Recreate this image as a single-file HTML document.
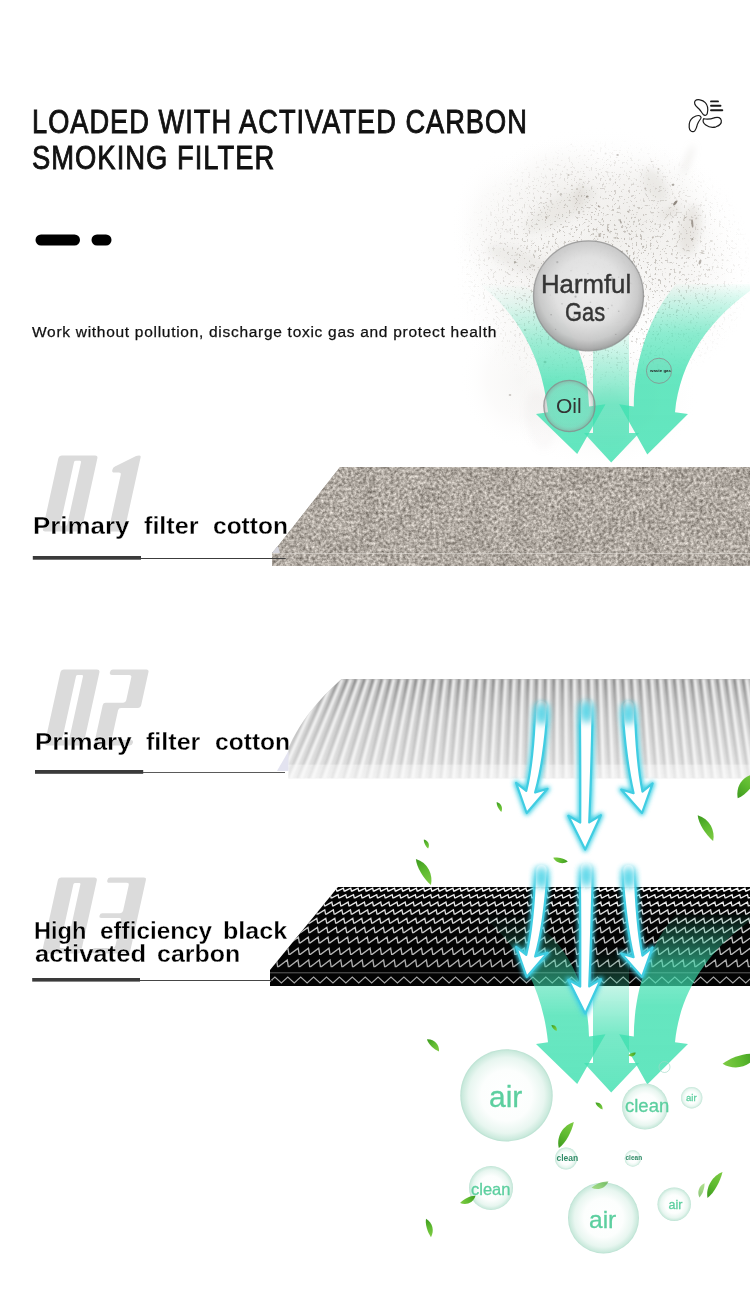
<!DOCTYPE html>
<html><head><meta charset="utf-8">
<style>
html,body{margin:0;padding:0;background:#fff;}
body{width:750px;height:1308px;position:relative;overflow:hidden;font-family:"Liberation Sans",sans-serif;}
.a{position:absolute;white-space:nowrap;line-height:1;}
.h{font-size:32.5px;color:#111;-webkit-text-stroke:0.9px #111;letter-spacing:1.2px;transform-origin:0 0;}
.lb{font-size:23px;font-weight:bold;color:#000;transform-origin:0 0;-webkit-text-stroke:0.3px #fff;}
.g{color:#5ccf9f;-webkit-text-stroke:0.3px #5ccf9f;}
.gd{color:#2f8a66;font-weight:bold;}
</style></head><body>
<svg width="750" height="1308" viewBox="0 0 750 1308" style="position:absolute;left:0;top:0"><defs>
<filter id="stone" x="0" y="0" width="1" height="1" color-interpolation-filters="sRGB">
  <feTurbulence type="fractalNoise" baseFrequency="0.33" numOctaves="3" seed="5" result="t1"/>
  <feColorMatrix in="t1" type="matrix" values="1 0 0 0 0  1 0 0 0 0  1 0 0 0 0  0 0 0 0 1" result="n1"/>
  <feTurbulence type="fractalNoise" baseFrequency="0.045" numOctaves="2" seed="11" result="t2"/>
  <feColorMatrix in="t2" type="matrix" values="1 0 0 0 0  1 0 0 0 0  1 0 0 0 0  0 0 0 0 1" result="n2"/>
  <feComposite in="n1" in2="n2" operator="arithmetic" k1="0" k2="0.75" k3="0.12" k4="0.065" result="n"/>
  <feColorMatrix in="n" type="matrix" values="0.8 0 0 0 0.262  0.8 0 0 0 0.236  0.8 0 0 0 0.205  0 0 0 0 1" result="c"/>
  <feComposite in="c" in2="SourceGraphic" operator="in"/>
</filter>
<filter id="bl07" x="-5%" y="-5%" width="110%" height="110%"><feGaussianBlur stdDeviation="0.85"/></filter>
<filter id="bl2" x="-50%" y="-50%" width="200%" height="200%"><feGaussianBlur stdDeviation="2"/></filter>
<filter id="bl3" x="-50%" y="-50%" width="200%" height="200%"><feGaussianBlur stdDeviation="3.5"/></filter>
<filter id="bl6" x="-50%" y="-50%" width="200%" height="200%"><feGaussianBlur stdDeviation="6"/></filter>
<filter id="glow" x="-60%" y="-20%" width="220%" height="140%">
  <feGaussianBlur in="SourceAlpha" stdDeviation="2.2" result="b"/>
  <feFlood flood-color="#3dd3e6"/>
  <feComposite in2="b" operator="in" result="g"/>
  <feMerge><feMergeNode in="g"/><feMergeNode in="SourceGraphic"/></feMerge>
</filter>
<radialGradient id="gasG" cx="0.5" cy="0.45" r="0.55">
  <stop offset="0" stop-color="#ececec"/><stop offset="0.55" stop-color="#e0e0e0"/>
  <stop offset="0.82" stop-color="#c8c8c8"/><stop offset="0.95" stop-color="#ababab"/><stop offset="1" stop-color="#9a9a9a"/>
</radialGradient>
<radialGradient id="oilG" cx="0.5" cy="0.5" r="0.5">
  <stop offset="0" stop-color="#e0e0e0" stop-opacity="0.12"/><stop offset="0.8" stop-color="#c8c8c8" stop-opacity="0.22"/>
  <stop offset="1" stop-color="#909090" stop-opacity="0.5"/>
</radialGradient>
<radialGradient id="airG" cx="0.5" cy="0.5" r="0.5">
  <stop offset="0" stop-color="#ffffff"/><stop offset="0.55" stop-color="#fcfefd"/>
  <stop offset="0.82" stop-color="#e8f6f0"/><stop offset="0.96" stop-color="#cbeadd"/><stop offset="1" stop-color="#b8e0d0"/>
</radialGradient>
<radialGradient id="smokeG" cx="0.5" cy="0.5" r="0.5">
  <stop offset="0" stop-color="#e9e7e3" stop-opacity="0.85"/><stop offset="0.55" stop-color="#efedea" stop-opacity="0.55"/>
  <stop offset="1" stop-color="#ffffff" stop-opacity="0"/>
</radialGradient>
<linearGradient id="gL" x1="0" y1="0" x2="0" y2="1">
  <stop offset="0" stop-color="#4fe0b4" stop-opacity="0"/><stop offset="0.4" stop-color="#4fe0b4" stop-opacity="0.5"/><stop offset="1" stop-color="#4fe0b4" stop-opacity="0.8"/>
</linearGradient>
<linearGradient id="pleatV" x1="0" y1="678" x2="0" y2="766" gradientUnits="userSpaceOnUse">
  <stop offset="0" stop-color="#8a8a8a"/><stop offset="0.3" stop-color="#aaaaaa"/><stop offset="1" stop-color="#c4c4c4"/>
</linearGradient>
<filter id="dust" x="0" y="0" width="1" height="1" color-interpolation-filters="sRGB">
  <feTurbulence type="fractalNoise" baseFrequency="0.42" numOctaves="2" seed="3"/>
  <feColorMatrix type="matrix" values="0 0 0 0 0.5  0 0 0 0 0.47  0 0 0 0 0.43  -12 0 0 0 4.5"/>
  <feGaussianBlur stdDeviation="0.35"/>
</filter>
<radialGradient id="dustM" cx="0.5" cy="0.5" r="0.5"><stop offset="0" stop-color="#fff" stop-opacity="0.5"/><stop offset="0.6" stop-color="#fff" stop-opacity="0.28"/><stop offset="1" stop-color="#fff" stop-opacity="0"/></radialGradient>
<mask id="dustMask" maskUnits="userSpaceOnUse" x="440" y="110" width="310" height="360"><ellipse cx="605" cy="268" rx="150" ry="130" fill="url(#dustM)"/></mask>
<linearGradient id="gLa" x1="0" y1="283" x2="0" y2="454" gradientUnits="userSpaceOnUse">
  <stop offset="0" stop-color="#3fe0b0" stop-opacity="0"/><stop offset="0.12" stop-color="#3fe0b0" stop-opacity="0.12"/><stop offset="0.35" stop-color="#3fe0b0" stop-opacity="0.5"/><stop offset="0.6" stop-color="#3fe0b0" stop-opacity="0.78"/><stop offset="1" stop-color="#3fe0b0" stop-opacity="0.82"/>
</linearGradient>
<linearGradient id="gMa" x1="0" y1="318" x2="0" y2="462" gradientUnits="userSpaceOnUse">
  <stop offset="0" stop-color="#3fe0b0" stop-opacity="0"/><stop offset="0.3" stop-color="#3fe0b0" stop-opacity="0.35"/><stop offset="0.6" stop-color="#3fe0b0" stop-opacity="0.7"/><stop offset="1" stop-color="#3fe0b0" stop-opacity="0.82"/>
</linearGradient>
<linearGradient id="gRa" x1="0" y1="282" x2="0" y2="454" gradientUnits="userSpaceOnUse">
  <stop offset="0" stop-color="#3fe0b0" stop-opacity="0"/><stop offset="0.1" stop-color="#3fe0b0" stop-opacity="0.22"/><stop offset="0.3" stop-color="#3fe0b0" stop-opacity="0.6"/><stop offset="0.55" stop-color="#3fe0b0" stop-opacity="0.8"/><stop offset="1" stop-color="#3fe0b0" stop-opacity="0.82"/>
</linearGradient>
<linearGradient id="bmG" x1="0" y1="698" x2="0" y2="726" gradientUnits="userSpaceOnUse"><stop offset="0" stop-color="#000"/><stop offset="1" stop-color="#fff"/></linearGradient>
<mask id="bm" maskUnits="userSpaceOnUse" x="400" y="600" width="400" height="300"><rect x="400" y="600" width="400" height="300" fill="url(#bmG)"/></mask><linearGradient id="leafG" x1="0" y1="0" x2="1" y2="0"><stop offset="0" stop-color="#3d9a1f"/><stop offset="0.5" stop-color="#5fbb30"/><stop offset="1" stop-color="#7fcb45"/></linearGradient></defs><g><ellipse cx="600" cy="240" rx="150" ry="115" fill="url(#smokeG)" opacity="0.75"/><ellipse cx="640" cy="215" rx="85" ry="75" fill="url(#smokeG)" opacity="0.6"/><ellipse cx="560" cy="300" rx="110" ry="90" fill="url(#smokeG)" opacity="0.5"/><ellipse cx="600" cy="400" rx="100" ry="70" fill="url(#smokeG)" opacity="0.5"/><ellipse cx="690" cy="280" rx="60" ry="90" fill="url(#smokeG)" opacity="0.3"/><ellipse cx="520" cy="380" rx="60" ry="70" fill="url(#smokeG)" opacity="0.4"/><ellipse cx="500" cy="230" rx="50" ry="80" fill="url(#smokeG)" opacity="0.35"/><ellipse cx="560" cy="190" rx="70" ry="55" fill="url(#smokeG)" opacity="0.4"/><g filter="url(#bl3)"><ellipse cx="655" cy="185" rx="18" ry="10" transform="rotate(60 655 185)" fill="#c9c3ba" opacity="0.22"/><ellipse cx="670" cy="212" rx="12" ry="5" transform="rotate(-30 670 212)" fill="#c9c3ba" opacity="0.3"/><ellipse cx="688" cy="160" rx="3" ry="16" transform="rotate(20 688 160)" fill="#c9c3ba" opacity="0.25"/><ellipse cx="579" cy="196" rx="3" ry="14" transform="rotate(10 579 196)" fill="#c9c3ba" opacity="0.35"/><ellipse cx="560" cy="210" rx="40" ry="12" transform="rotate(-30 560 210)" fill="#c9c3ba" opacity="0.2"/><ellipse cx="520" cy="260" rx="35" ry="10" transform="rotate(20 520 260)" fill="#c9c3ba" opacity="0.18"/><ellipse cx="540" cy="420" rx="30" ry="14" transform="rotate(80 540 420)" fill="#c9c3ba" opacity="0.08"/><ellipse cx="610" cy="420" rx="20" ry="30" transform="rotate(0 610 420)" fill="#c9c3ba" opacity="0.1"/><ellipse cx="690" cy="230" rx="10" ry="25" transform="rotate(10 690 230)" fill="#c9c3ba" opacity="0.3"/></g><ellipse cx="675.2" cy="203" rx="2.8" ry="1.3" transform="rotate(-50 675.2 203)" fill="#6f665b" opacity="0.75"/><ellipse cx="673" cy="184.8" rx="1.4" ry="1.1" transform="rotate(0 673 184.8)" fill="#6f665b" opacity="0.55"/><ellipse cx="692.3" cy="223.5" rx="1.0" ry="4.2" transform="rotate(-5 692.3 223.5)" fill="#6f665b" opacity="0.6"/><ellipse cx="692.3" cy="239.2" rx="1.1" ry="1.1" transform="rotate(0 692.3 239.2)" fill="#6f665b" opacity="0.5"/><ellipse cx="587.3" cy="196.5" rx="1.3" ry="1.1" transform="rotate(0 587.3 196.5)" fill="#6f665b" opacity="0.6"/><ellipse cx="620.8" cy="222" rx="1.6" ry="0.8" transform="rotate(60 620.8 222)" fill="#6f665b" opacity="0.5"/><ellipse cx="643.2" cy="246.7" rx="1.1" ry="1" transform="rotate(0 643.2 246.7)" fill="#6f665b" opacity="0.45"/><ellipse cx="617.6" cy="155" rx="1.3" ry="1" transform="rotate(0 617.6 155)" fill="#6f665b" opacity="0.35"/><ellipse cx="568.5" cy="175" rx="1.1" ry="1" transform="rotate(0 568.5 175)" fill="#6f665b" opacity="0.35"/><ellipse cx="565" cy="252" rx="1.5" ry="1.2" transform="rotate(0 565 252)" fill="#6f665b" opacity="0.5"/><ellipse cx="540" cy="290" rx="1.3" ry="1.1" transform="rotate(0 540 290)" fill="#6f665b" opacity="0.45"/><ellipse cx="515" cy="262" rx="1.2" ry="1" transform="rotate(0 515 262)" fill="#6f665b" opacity="0.4"/><ellipse cx="700" cy="262" rx="1.2" ry="2.6" transform="rotate(20 700 262)" fill="#6f665b" opacity="0.5"/><ellipse cx="632" cy="262" rx="1.2" ry="1" transform="rotate(0 632 262)" fill="#6f665b" opacity="0.4"/><ellipse cx="659" cy="280" rx="1.1" ry="1" transform="rotate(0 659 280)" fill="#6f665b" opacity="0.4"/><ellipse cx="525" cy="330" rx="1.3" ry="1.1" transform="rotate(0 525 330)" fill="#6f665b" opacity="0.4"/><ellipse cx="545" cy="362" rx="1.5" ry="1.2" transform="rotate(0 545 362)" fill="#6f665b" opacity="0.45"/><ellipse cx="510" cy="395" rx="1.3" ry="1" transform="rotate(0 510 395)" fill="#6f665b" opacity="0.35"/><ellipse cx="592.68" cy="265.68" rx="1.64" ry="0.65" transform="rotate(10.44 592.68 265.68)" fill="#7a7064" opacity="0.36"/><ellipse cx="595.97" cy="244.65" rx="1.11" ry="0.67" transform="rotate(148.83 595.97 244.65)" fill="#7a7064" opacity="0.37"/><circle cx="631.83" cy="267.2" r="0.9" fill="#7d7468" opacity="0.42"/><circle cx="595.29" cy="240.14" r="0.6" fill="#7d7468" opacity="0.32"/><circle cx="598.46" cy="266.62" r="1.2" fill="#7d7468" opacity="0.24"/><ellipse cx="596.59" cy="229.49" rx="1.12" ry="0.78" transform="rotate(101.59 596.59 229.49)" fill="#7a7064" opacity="0.42"/><circle cx="552.66" cy="204.23" r="0.8" fill="#7d7468" opacity="0.22"/><circle cx="548" cy="216.45" r="1.0" fill="#7d7468" opacity="0.16"/><circle cx="608.15" cy="231.07" r="0.7" fill="#7d7468" opacity="0.40"/><ellipse cx="599.05" cy="206.54" rx="1.5" ry="0.8" transform="rotate(27.36 599.05 206.54)" fill="#7a7064" opacity="0.50"/><circle cx="595.66" cy="245.55" r="0.9" fill="#7d7468" opacity="0.43"/><circle cx="630.89" cy="158.24" r="0.8" fill="#7d7468" opacity="0.17"/><circle cx="546.51" cy="218.03" r="0.8" fill="#7d7468" opacity="0.29"/><circle cx="600.42" cy="233.86" r="0.9" fill="#7d7468" opacity="0.48"/><circle cx="711.75" cy="241.11" r="1.0" fill="#7d7468" opacity="0.24"/><circle cx="536.86" cy="326.98" r="0.8" fill="#7d7468" opacity="0.10"/><ellipse cx="699.36" cy="275.78" rx="1.47" ry="0.85" transform="rotate(14.5 699.36 275.78)" fill="#7a7064" opacity="0.16"/><circle cx="531.49" cy="265.41" r="1.2" fill="#7d7468" opacity="0.21"/><circle cx="515.02" cy="220.33" r="0.8" fill="#7d7468" opacity="0.21"/><ellipse cx="631.57" cy="238.93" rx="1.28" ry="0.69" transform="rotate(106.04 631.57 238.93)" fill="#7a7064" opacity="0.44"/><circle cx="604.88" cy="246.29" r="0.9" fill="#7d7468" opacity="0.40"/><circle cx="595.07" cy="263.13" r="1.0" fill="#7d7468" opacity="0.42"/><circle cx="599.59" cy="235.91" r="1.2" fill="#7d7468" opacity="0.51"/><circle cx="571.82" cy="185.22" r="0.8" fill="#7d7468" opacity="0.20"/><ellipse cx="595.99" cy="236.49" rx="1.19" ry="0.64" transform="rotate(9.46 595.99 236.49)" fill="#7a7064" opacity="0.29"/><circle cx="632.59" cy="245.03" r="0.5" fill="#7d7468" opacity="0.39"/><circle cx="637.17" cy="257.78" r="0.7" fill="#7d7468" opacity="0.40"/><circle cx="549.92" cy="210.36" r="0.8" fill="#7d7468" opacity="0.12"/><circle cx="556.16" cy="250.08" r="1.0" fill="#7d7468" opacity="0.14"/><ellipse cx="595.04" cy="334.97" rx="2.14" ry="0.71" transform="rotate(26.39 595.04 334.97)" fill="#7a7064" opacity="0.10"/><circle cx="598.3" cy="243.43" r="1.2" fill="#7d7468" opacity="0.41"/><circle cx="696.9" cy="294.68" r="0.7" fill="#7d7468" opacity="0.19"/><circle cx="615.38" cy="182.17" r="0.6" fill="#7d7468" opacity="0.39"/><ellipse cx="526.72" cy="188.32" rx="1.29" ry="0.66" transform="rotate(144.6 526.72 188.32)" fill="#7a7064" opacity="0.15"/><circle cx="626.96" cy="301.68" r="1.2" fill="#7d7468" opacity="0.27"/><circle cx="597.2" cy="280.04" r="0.8" fill="#7d7468" opacity="0.32"/><circle cx="639.69" cy="169.41" r="0.5" fill="#7d7468" opacity="0.23"/><ellipse cx="612.04" cy="276.5" rx="1.75" ry="0.86" transform="rotate(151.28 612.04 276.5)" fill="#7a7064" opacity="0.24"/><ellipse cx="516.85" cy="254.6" rx="1.79" ry="0.86" transform="rotate(140.81 516.85 254.6)" fill="#7a7064" opacity="0.16"/><circle cx="605.06" cy="186.82" r="0.7" fill="#7d7468" opacity="0.24"/><circle cx="707.26" cy="297.08" r="1.0" fill="#7d7468" opacity="0.21"/><ellipse cx="696.28" cy="218.37" rx="1.18" ry="0.86" transform="rotate(145.17 696.28 218.37)" fill="#7a7064" opacity="0.27"/><circle cx="670.15" cy="316.64" r="0.7" fill="#7d7468" opacity="0.25"/><circle cx="648.08" cy="298.9" r="1.0" fill="#7d7468" opacity="0.11"/><circle cx="560.89" cy="194.22" r="1.2" fill="#7d7468" opacity="0.33"/><ellipse cx="643.14" cy="333.66" rx="1.6" ry="0.81" transform="rotate(58.68 643.14 333.66)" fill="#7a7064" opacity="0.10"/><circle cx="501.05" cy="220.02" r="0.8" fill="#7d7468" opacity="0.10"/><circle cx="549.53" cy="168.99" r="0.9" fill="#7d7468" opacity="0.11"/><circle cx="623.84" cy="262.02" r="1.2" fill="#7d7468" opacity="0.41"/><ellipse cx="605.61" cy="246.14" rx="1.57" ry="0.79" transform="rotate(100.17 605.61 246.14)" fill="#7a7064" opacity="0.49"/><circle cx="571.05" cy="300.13" r="0.5" fill="#7d7468" opacity="0.15"/><ellipse cx="614.36" cy="237.91" rx="1.12" ry="0.68" transform="rotate(5.02 614.36 237.91)" fill="#7a7064" opacity="0.39"/><circle cx="615.81" cy="237.86" r="0.9" fill="#7d7468" opacity="0.43"/><circle cx="512.08" cy="239.02" r="0.8" fill="#7d7468" opacity="0.10"/><circle cx="564.12" cy="243.33" r="0.7" fill="#7d7468" opacity="0.28"/><circle cx="705.98" cy="200.28" r="0.8" fill="#7d7468" opacity="0.20"/><ellipse cx="651.97" cy="282.82" rx="1.09" ry="0.77" transform="rotate(141.11 651.97 282.82)" fill="#7a7064" opacity="0.20"/><circle cx="627.38" cy="230.8" r="0.6" fill="#7d7468" opacity="0.58"/><circle cx="604.5" cy="266.44" r="0.5" fill="#7d7468" opacity="0.34"/><circle cx="548.56" cy="280.24" r="0.6" fill="#7d7468" opacity="0.26"/><circle cx="571.29" cy="144.41" r="0.7" fill="#7d7468" opacity="0.10"/><circle cx="564.79" cy="318.54" r="0.8" fill="#7d7468" opacity="0.10"/><circle cx="588.12" cy="198.24" r="0.5" fill="#7d7468" opacity="0.32"/><circle cx="693.64" cy="308.87" r="0.5" fill="#7d7468" opacity="0.10"/><circle cx="604.08" cy="252.89" r="0.6" fill="#7d7468" opacity="0.46"/><circle cx="651.58" cy="161.55" r="0.8" fill="#7d7468" opacity="0.27"/><circle cx="674.06" cy="324.18" r="0.5" fill="#7d7468" opacity="0.10"/><circle cx="586.02" cy="331.34" r="0.7" fill="#7d7468" opacity="0.10"/><ellipse cx="685.42" cy="217.44" rx="2.03" ry="0.53" transform="rotate(155.3 685.42 217.44)" fill="#7a7064" opacity="0.46"/><circle cx="554.58" cy="257.66" r="0.7" fill="#7d7468" opacity="0.23"/><circle cx="597.69" cy="239.11" r="0.6" fill="#7d7468" opacity="0.46"/><circle cx="602.62" cy="271.69" r="0.9" fill="#7d7468" opacity="0.43"/><ellipse cx="607.77" cy="206.07" rx="1.42" ry="0.51" transform="rotate(45.08 607.77 206.07)" fill="#7a7064" opacity="0.40"/><ellipse cx="702.05" cy="252.89" rx="1.57" ry="0.87" transform="rotate(19.13 702.05 252.89)" fill="#7a7064" opacity="0.32"/><circle cx="631.81" cy="196.29" r="0.8" fill="#7d7468" opacity="0.40"/><ellipse cx="652.85" cy="237.41" rx="1.24" ry="0.85" transform="rotate(131.19 652.85 237.41)" fill="#7a7064" opacity="0.44"/><circle cx="684.17" cy="325.1" r="0.5" fill="#7d7468" opacity="0.19"/><ellipse cx="693.79" cy="280.51" rx="1.1" ry="0.84" transform="rotate(156.7 693.79 280.51)" fill="#7a7064" opacity="0.19"/><circle cx="583.27" cy="211.52" r="0.8" fill="#7d7468" opacity="0.27"/><circle cx="622.28" cy="278.74" r="0.7" fill="#7d7468" opacity="0.20"/><circle cx="681.01" cy="233.91" r="0.7" fill="#7d7468" opacity="0.35"/><ellipse cx="611.44" cy="271.43" rx="1.33" ry="0.76" transform="rotate(44.67 611.44 271.43)" fill="#7a7064" opacity="0.30"/><ellipse cx="608.01" cy="229.8" rx="1.7" ry="0.66" transform="rotate(53.94 608.01 229.8)" fill="#7a7064" opacity="0.53"/><circle cx="593.12" cy="234.42" r="0.6" fill="#7d7468" opacity="0.51"/><circle cx="552.49" cy="177.81" r="0.7" fill="#7d7468" opacity="0.24"/><circle cx="591.97" cy="186.27" r="0.6" fill="#7d7468" opacity="0.23"/><circle cx="709.17" cy="269.7" r="1.0" fill="#7d7468" opacity="0.34"/><circle cx="583.07" cy="187.01" r="0.9" fill="#7d7468" opacity="0.37"/><circle cx="658.44" cy="169.03" r="1.0" fill="#7d7468" opacity="0.34"/><ellipse cx="566.84" cy="173.53" rx="1.16" ry="0.64" transform="rotate(18.88 566.84 173.53)" fill="#7a7064" opacity="0.11"/><circle cx="645.28" cy="188.46" r="1.0" fill="#7d7468" opacity="0.40"/><ellipse cx="606.47" cy="281.14" rx="2.12" ry="0.86" transform="rotate(16.55 606.47 281.14)" fill="#7a7064" opacity="0.28"/><circle cx="507.47" cy="231.5" r="1.2" fill="#7d7468" opacity="0.10"/><circle cx="595.52" cy="326.18" r="0.8" fill="#7d7468" opacity="0.10"/><circle cx="547.09" cy="246.85" r="1.2" fill="#7d7468" opacity="0.20"/><circle cx="687.97" cy="266.08" r="0.7" fill="#7d7468" opacity="0.24"/><circle cx="602.56" cy="327.78" r="0.5" fill="#7d7468" opacity="0.10"/><ellipse cx="535.27" cy="251.5" rx="1.26" ry="0.7" transform="rotate(127.6 535.27 251.5)" fill="#7a7064" opacity="0.27"/><circle cx="589.97" cy="300.58" r="0.9" fill="#7d7468" opacity="0.24"/><ellipse cx="643.5" cy="342.96" rx="1.55" ry="0.83" transform="rotate(174.26 643.5 342.96)" fill="#7a7064" opacity="0.12"/><circle cx="563.51" cy="256.46" r="0.6" fill="#7d7468" opacity="0.18"/><circle cx="621.29" cy="251.93" r="0.7" fill="#7d7468" opacity="0.51"/><circle cx="676.74" cy="311.31" r="1.0" fill="#7d7468" opacity="0.15"/><circle cx="557.62" cy="290.04" r="0.6" fill="#7d7468" opacity="0.23"/><circle cx="675.82" cy="246.34" r="0.6" fill="#7d7468" opacity="0.40"/><circle cx="555.58" cy="269.14" r="0.7" fill="#7d7468" opacity="0.10"/><circle cx="605.5" cy="153.75" r="1.0" fill="#7d7468" opacity="0.10"/><ellipse cx="702.97" cy="251.07" rx="1.47" ry="0.85" transform="rotate(13.75 702.97 251.07)" fill="#7a7064" opacity="0.25"/><circle cx="694.13" cy="207.1" r="0.5" fill="#7d7468" opacity="0.42"/><ellipse cx="628.27" cy="211.79" rx="1.32" ry="0.7" transform="rotate(34.17 628.27 211.79)" fill="#7a7064" opacity="0.58"/><g mask="url(#dustMask)"><rect x="440" y="110" width="310" height="360" fill="#000" filter="url(#dust)"/></g></g><g transform="translate(0,0)"><path fill="url(#gLa)" d="M478,283 C505,303 541,343 548,412.3 L536,414 L577.2,454 L605.5,404.3 L589,406.5 C588,360 570,312 525,286 Z"/><path fill="url(#gMa)" d="M593,318 L593,433 L584,433 L611.2,462.4 L639.2,433 L629,433 L629,318 Z"/><path fill="url(#gRa)" d="M676,284 C650,314 634,360 633.8,406.4 L619.2,404.3 L647.3,454.4 L688,414 L675,412.2 C680,362 708,318 760,284 Z"/></g><circle cx="588.5" cy="295.8" r="55" fill="url(#gasG)" fill-opacity="0.97" stroke="#888" stroke-width="1.3" stroke-opacity="0.7"/><circle cx="555.66" cy="329.33" r="0.6" fill="#777" opacity="0.40"/><circle cx="557.29" cy="262.18" r="1.1" fill="#777" opacity="0.34"/><circle cx="586.47" cy="285.32" r="1.1" fill="#777" opacity="0.30"/><circle cx="575.09" cy="283.99" r="0.8" fill="#777" opacity="0.32"/><circle cx="618.79" cy="277.09" r="0.6" fill="#777" opacity="0.32"/><circle cx="573.96" cy="317.59" r="1.1" fill="#777" opacity="0.38"/><circle cx="570.96" cy="270.74" r="0.6" fill="#777" opacity="0.28"/><circle cx="560.29" cy="285.18" r="0.6" fill="#777" opacity="0.36"/><circle cx="618.74" cy="311.25" r="0.8" fill="#777" opacity="0.34"/><circle cx="562.01" cy="303.86" r="0.8" fill="#777" opacity="0.31"/><circle cx="565.85" cy="288.79" r="0.6" fill="#777" opacity="0.29"/><circle cx="608.23" cy="308.51" r="0.8" fill="#777" opacity="0.40"/><circle cx="590.51" cy="302.3" r="0.8" fill="#777" opacity="0.30"/><circle cx="587.93" cy="273.81" r="0.8" fill="#777" opacity="0.28"/><circle cx="611.89" cy="305.41" r="0.8" fill="#777" opacity="0.23"/><circle cx="550.42" cy="294.99" r="0.6" fill="#777" opacity="0.22"/><circle cx="612.22" cy="277.82" r="1.1" fill="#777" opacity="0.31"/><circle cx="630.88" cy="283.18" r="0.6" fill="#777" opacity="0.23"/><circle cx="551.1" cy="314.8" r="0.8" fill="#777" opacity="0.44"/><circle cx="575.55" cy="296.63" r="1.1" fill="#777" opacity="0.41"/><circle cx="612.06" cy="291.65" r="0.6" fill="#777" opacity="0.26"/><circle cx="615.81" cy="334.44" r="0.6" fill="#777" opacity="0.44"/><circle cx="569.4" cy="406" r="25.6" fill="url(#oilG)" stroke="#8a8a8a" stroke-width="1.3" stroke-opacity="0.75"/><circle cx="659" cy="370.8" r="12.6" fill="#7ad8bb" fill-opacity="0.3" stroke="#8a8a8a" stroke-width="1" stroke-opacity="0.75"/><polygon points="340,467 750,467 750,566 272,566 272,553 278,546" fill="#a19c96"/><polygon points="340,467 750,467 750,566 272,566 272,553 278,546" fill="#000" filter="url(#stone)"/><rect x="272" y="553" width="478" height="1" fill="#e2ded8" opacity="0.55"/><polygon points="272,553 278,546 280,553" fill="#d4d4dc"/><path fill="#dbdbdb" fill-rule="evenodd" d="M45.3,531.4 Q42.3,531.4 42.94,528.47 L58.38,458.33 Q59.02,455.4 62.02,455.4 L95.02,455.4 Q98.02,455.4 97.38,458.33 L81.94,528.47 Q81.3,531.4 78.3,531.4 Z M61.49,526 Q59.99,526 60.31,524.54 L74.01,462.26 Q74.33,460.8 75.83,460.8 L79.83,460.8 Q81.33,460.8 81.01,462.26 L67.31,524.54 Q66.99,526 65.49,526 Z "/><path fill="#dbdbdb" d="M110.8,531.4 Q108.3,531.4 108.84,528.96 L120.74,474.84 Q121.28,472.4 118.78,472.4 L114.11,472.4 Q111.78,472.4 112.28,470.13 L112.38,469.67 Q112.88,467.4 114.97,466.38 L136.09,456.1 Q137.52,455.4 139.11,455.4 L139.43,455.4 Q141.02,455.4 140.68,456.95 L124.84,528.96 Q124.3,531.4 121.8,531.4 Z "/><path fill="#dbdbdb" fill-rule="evenodd" d="M47.3,745.5 Q44.3,745.5 44.94,742.57 L60.38,672.43 Q61.02,669.5 64.02,669.5 L97.02,669.5 Q100.02,669.5 99.38,672.43 L83.94,742.57 Q83.3,745.5 80.3,745.5 Z M63.49,740.1 Q61.99,740.1 62.31,738.64 L76.01,676.36 Q76.33,674.9 77.83,674.9 L81.83,674.9 Q83.33,674.9 83.01,676.36 L69.31,738.64 Q68.99,740.1 67.49,740.1 Z "/><path fill="#dbdbdb" d="M109.98,671.94 Q110.52,669.5 113.02,669.5 L146.52,669.5 Q149.02,669.5 148.48,671.94 L141.09,705.56 Q140.55,708 138.05,708 L121.05,708 Q118.55,708 118.01,710.44 L112.03,737.66 Q111.49,740.1 113.99,740.1 L130.99,740.1 Q133.49,740.1 132.95,742.54 L132.84,743.06 Q132.3,745.5 129.8,745.5 L96.3,745.5 Q93.8,745.5 94.34,743.06 L102.66,705.24 Q103.19,702.8 105.69,702.8 L123.19,702.8 Q125.69,702.8 126.23,700.36 L131.29,677.34 Q131.83,674.9 129.33,674.9 L111.83,674.9 Q109.33,674.9 109.87,672.46 Z "/><path fill="#dbdbdb" fill-rule="evenodd" d="M44.7,953.5 Q41.7,953.5 42.34,950.57 L57.78,880.43 Q58.42,877.5 61.42,877.5 L94.42,877.5 Q97.42,877.5 96.78,880.43 L81.34,950.57 Q80.7,953.5 77.7,953.5 Z M60.89,948.1 Q59.39,948.1 59.71,946.64 L73.41,884.36 Q73.73,882.9 75.23,882.9 L79.23,882.9 Q80.73,882.9 80.41,884.36 L66.71,946.64 Q66.39,948.1 64.89,948.1 Z "/><path fill="#dbdbdb" d="M107.39,879.91 Q107.92,877.5 110.39,877.5 L143.92,877.5 Q146.42,877.5 145.88,879.94 L130.24,951.06 Q129.7,953.5 127.2,953.5 L93.7,953.5 Q91.2,953.5 91.74,951.06 L91.85,950.54 Q92.39,948.1 94.89,948.1 L112.39,948.1 Q114.89,948.1 115.43,945.66 L120.97,920.44 Q121.51,918 119.01,918 L101.24,918 Q99.01,918 99.49,915.82 L99.59,915.38 Q100.07,913.2 102.3,913.2 L120.07,913.2 Q122.57,913.2 123.1,910.76 L128.72,885.24 Q129.25,882.8 126.75,882.8 L109.22,882.8 Q106.75,882.8 107.28,880.39 Z "/><clipPath id="c2"><path d="M341.6,679 L750,679 L750,778.5 L288.4,778.5 L288.4,748 C298,726 315,702 341.6,679 Z"/></clipPath><linearGradient id="p2base" x1="0" y1="679" x2="0" y2="778" gradientUnits="userSpaceOnUse"><stop offset="0" stop-color="#b4b4b4"/><stop offset="0.35" stop-color="#cacaca"/><stop offset="0.86" stop-color="#dedede"/><stop offset="0.87" stop-color="#ececec"/><stop offset="1" stop-color="#f0f0f0"/></linearGradient><linearGradient id="p2dark" x1="0" y1="679" x2="0" y2="778" gradientUnits="userSpaceOnUse"><stop offset="0" stop-color="#505050" stop-opacity="0.85"/><stop offset="0.15" stop-color="#666" stop-opacity="0.6"/><stop offset="0.4" stop-color="#808080" stop-opacity="0.4"/><stop offset="0.86" stop-color="#909090" stop-opacity="0.35"/><stop offset="0.87" stop-color="#a0a0a0" stop-opacity="0.22"/><stop offset="1" stop-color="#a0a0a0" stop-opacity="0.2"/></linearGradient><path d="M341.6,679 L750,679 L750,778.5 L288.4,778.5 L288.4,748 C298,726 315,702 341.6,679 Z" fill="url(#p2base)"/><g clip-path="url(#c2)"><g filter="url(#bl07)"><path d="M262,679 L204.4,779 M270.6,679 L214.72,779 M279.2,679 L225.04,779 M287.8,679 L235.36,779 M296.4,679 L245.68,779 M305,679 L256,779 M313.6,679 L266.32,779 M322.2,679 L276.64,779 M330.8,679 L286.96,779 M339.4,679 L297.28,779 M348,679 L308.71,779 M356.6,679 L320.23,779 M365.2,679 L331.75,779 M373.8,679 L343.27,779 M382.4,679 L354.79,779 M391,679 L366.3,779 M399.6,679 L377.42,779 M408.2,679 L387.98,779 M416.8,679 L398.54,779 M425.4,679 L409.11,779 M434,679 L419.67,779 M442.6,679 L430.23,779 M451.2,679 L440.79,779 M459.8,679 L450.44,779 M468.4,679 L459.84,779 M477,679 L469.24,779 M485.6,679 L478.65,779 M494.2,679 L488.05,779 M502.8,679 L497.45,779 M511.4,679 L506.86,779 M520,679 L516.26,779 M528.6,679 L525.67,779 M537.2,679 L535.07,779 M545.8,679 L544.47,779 M554.4,679 L553.88,779 M563,679 L563.26,779 M571.6,679 L572.59,779 M580.2,679 L581.93,779 M588.8,679 L591.27,779 M597.4,679 L600.61,779 M606,679 L609.94,779 M614.6,679 L619.28,779 M623.2,679 L628.62,779 M631.8,679 L637.95,779 M640.4,679 L647.29,779 M649,679 L656.63,779 M657.6,679 L665.97,779 M666.2,679 L675.3,779 M674.8,679 L684.64,779 M683.4,679 L693.98,779 M692,679 L703.31,779 M700.6,679 L712.64,779 M709.2,679 L721.78,779 M717.8,679 L730.91,779 M726.4,679 L740.05,779 M735,679 L749.19,779 M743.6,679 L758.33,779 M752.2,679 L767.46,779 M760.8,679 L776.6,779 M769.4,679 L785.74,779 M778,679 L794.88,779 M786.6,679 L803.6,779" stroke="url(#p2dark)" stroke-width="1.8" fill="none"/><path d="M264.8,679 L207.76,779 M273.4,679 L218.08,779 M282,679 L228.4,779 M290.6,679 L238.72,779 M299.2,679 L249.04,779 M307.8,679 L259.36,779 M316.4,679 L269.68,779 M325,679 L280,779 M333.6,679 L290.32,779 M342.2,679 L300.95,779 M350.8,679 L312.46,779 M359.4,679 L323.98,779 M368,679 L335.5,779 M376.6,679 L347.02,779 M385.2,679 L358.54,779 M393.8,679 L370.05,779 M402.4,679 L380.86,779 M411,679 L391.42,779 M419.6,679 L401.98,779 M428.2,679 L412.54,779 M436.8,679 L423.11,779 M445.4,679 L433.67,779 M454,679 L444.09,779 M462.6,679 L453.5,779 M471.2,679 L462.9,779 M479.8,679 L472.3,779 M488.4,679 L481.71,779 M497,679 L491.11,779 M505.6,679 L500.52,779 M514.2,679 L509.92,779 M522.8,679 L519.32,779 M531.4,679 L528.73,779 M540,679 L538.13,779 M548.6,679 L547.53,779 M557.2,679 L556.94,779 M565.8,679 L566.3,779 M574.4,679 L575.63,779 M583,679 L584.97,779 M591.6,679 L594.31,779 M600.2,679 L603.65,779 M608.8,679 L612.98,779 M617.4,679 L622.32,779 M626,679 L631.66,779 M634.6,679 L640.99,779 M643.2,679 L650.33,779 M651.8,679 L659.67,779 M660.4,679 L669.01,779 M669,679 L678.34,779 M677.6,679 L687.68,779 M686.2,679 L697.02,779 M694.8,679 L706.35,779 M703.4,679 L715.61,779 M712,679 L724.75,779 M720.6,679 L733.89,779 M729.2,679 L743.03,779 M737.8,679 L752.16,779 M746.4,679 L761.3,779 M755,679 L770.44,779 M763.6,679 L779.58,779 M772.2,679 L788.71,779 M780.8,679 L797.8,779 M789.4,679 L806.4,779" stroke="#fbfbfb" stroke-width="3.0" fill="none" opacity="0.9"/></g></g><path d="M277,771 C281,764 285,757 288.4,751 L288.4,771 Z" fill="#dcdcec" opacity="0.8"/><g transform="translate(0,0)"><g mask="url(#bm)"><path d="M535.25,706 Q533.62,760 526.27,790.87 L516.07,782.85 L526.7,813 L547.53,788.75 L535.12,792.53 Q544.38,760 547.75,706 A6.25,6.25 0 0 0 535.25,706 Z" fill="none" stroke="#3fd0e4" stroke-width="5" stroke-linejoin="round" filter="url(#bl2)"/><path d="M535.25,706 Q533.62,760 526.27,790.87 L516.07,782.85 L526.7,813 L547.53,788.75 L535.12,792.53 Q544.38,760 547.75,706 A6.25,6.25 0 0 0 535.25,706 Z" fill="#fff" stroke="#40cde2" stroke-width="2.2" stroke-linejoin="round"/><path d="M579.8,704 Q580.5,770 580.22,822.58 L568.3,815.79 L585.2,849.5 L600.9,815.21 L589.22,822.42 Q591.5,770 592.8,704 A6.5,6.5 0 0 0 579.8,704 Z" fill="none" stroke="#3fd0e4" stroke-width="5" stroke-linejoin="round" filter="url(#bl2)"/><path d="M579.8,704 Q580.5,770 580.22,822.58 L568.3,815.79 L585.2,849.5 L600.9,815.21 L589.22,822.42 Q591.5,770 592.8,704 A6.5,6.5 0 0 0 579.8,704 Z" fill="#fff" stroke="#40cde2" stroke-width="2.2" stroke-linejoin="round"/><path d="M622.25,706 Q625.62,760 633.61,793.24 L621.19,789.52 L642,813 L652.61,783.48 L642.45,791.54 Q636.38,760 634.75,706 A6.25,6.25 0 0 0 622.25,706 Z" fill="none" stroke="#3fd0e4" stroke-width="5" stroke-linejoin="round" filter="url(#bl2)"/><path d="M622.25,706 Q625.62,760 633.61,793.24 L621.19,789.52 L642,813 L652.61,783.48 L642.45,791.54 Q636.38,760 634.75,706 A6.25,6.25 0 0 0 622.25,706 Z" fill="#fff" stroke="#40cde2" stroke-width="2.2" stroke-linejoin="round"/></g><ellipse cx="541.5" cy="714" rx="6.5" ry="11" fill="#55d5e8" filter="url(#bl3)" opacity="0.95"/><ellipse cx="586.3" cy="712" rx="6.5" ry="11" fill="#55d5e8" filter="url(#bl3)" opacity="0.95"/><ellipse cx="628.5" cy="714" rx="6.5" ry="11" fill="#55d5e8" filter="url(#bl3)" opacity="0.95"/></g><clipPath id="c3"><polygon points="338,887 750,887 750,986 270,986 270,970"/></clipPath><polygon points="338,887 750,887 750,986 270,986 270,970" fill="#030303"/><g clip-path="url(#c3)" fill="none" stroke-linejoin="miter"><polyline points="250,890.95 255.84,888.25 256.57,890.95 257.3,890.95 263.14,888.25 263.87,890.95 264.6,890.95 270.44,888.25 271.17,890.95 271.9,890.95 277.74,888.25 278.47,890.95 279.2,890.95 285.04,888.25 285.77,890.95 286.5,890.95 292.34,888.25 293.07,890.95 293.8,890.95 299.64,888.25 300.37,890.95 301.1,890.95 306.94,888.25 307.67,890.95 308.4,890.95 314.24,888.25 314.97,890.95 315.7,890.95 321.54,888.25 322.27,890.95 323,890.95 328.84,888.25 329.57,890.95 330.3,890.95 336.14,888.25 336.87,890.95 337.6,890.95 343.44,888.25 344.17,890.95 344.9,890.95 350.74,888.25 351.47,890.95 352.2,890.95 358.04,888.25 358.77,890.95 359.5,890.95 365.34,888.25 366.07,890.95 366.8,890.95 372.64,888.25 373.37,890.95 374.1,890.95 379.94,888.25 380.67,890.95 381.4,890.95 387.24,888.25 387.97,890.95 388.7,890.95 394.54,888.25 395.27,890.95 396,890.95 401.84,888.25 402.57,890.95 403.3,890.95 409.14,888.25 409.87,890.95 410.6,890.95 416.44,888.25 417.17,890.95 417.9,890.95 423.74,888.25 424.47,890.95 425.2,890.95 431.04,888.25 431.77,890.95 432.5,890.95 438.34,888.25 439.07,890.95 439.8,890.95 445.64,888.25 446.37,890.95 447.1,890.95 452.94,888.25 453.67,890.95 454.4,890.95 460.24,888.25 460.97,890.95 461.7,890.95 467.54,888.25 468.27,890.95 469,890.95 474.84,888.25 475.57,890.95 476.3,890.95 482.14,888.25 482.87,890.95 483.6,890.95 489.44,888.25 490.17,890.95 490.9,890.95 496.74,888.25 497.47,890.95 498.2,890.95 504.04,888.25 504.77,890.95 505.5,890.95 511.34,888.25 512.07,890.95 512.8,890.95 518.64,888.25 519.37,890.95 520.1,890.95 525.94,888.25 526.67,890.95 527.4,890.95 533.24,888.25 533.97,890.95 534.7,890.95 540.54,888.25 541.27,890.95 542,890.95 547.84,888.25 548.57,890.95 549.3,890.95 555.14,888.25 555.87,890.95 556.6,890.95 562.44,888.25 563.17,890.95 563.9,890.95 569.74,888.25 570.47,890.95 571.2,890.95 577.04,888.25 577.77,890.95 578.5,890.95 584.34,888.25 585.07,890.95 585.8,890.95 591.64,888.25 592.37,890.95 593.1,890.95 598.94,888.25 599.67,890.95 600.4,890.95 606.24,888.25 606.97,890.95 607.7,890.95 613.54,888.25 614.27,890.95 615,890.95 620.84,888.25 621.57,890.95 622.3,890.95 628.14,888.25 628.87,890.95 629.6,890.95 635.44,888.25 636.17,890.95 636.9,890.95 642.74,888.25 643.47,890.95 644.2,890.95 650.04,888.25 650.77,890.95 651.5,890.95 657.34,888.25 658.07,890.95 658.8,890.95 664.64,888.25 665.37,890.95 666.1,890.95 671.94,888.25 672.67,890.95 673.4,890.95 679.24,888.25 679.97,890.95 680.7,890.95 686.54,888.25 687.27,890.95 688,890.95 693.84,888.25 694.57,890.95 695.3,890.95 701.14,888.25 701.87,890.95 702.6,890.95 708.44,888.25 709.17,890.95 709.9,890.95 715.74,888.25 716.47,890.95 717.2,890.95 723.04,888.25 723.77,890.95 724.5,890.95 730.34,888.25 731.07,890.95 731.8,890.95 737.64,888.25 738.37,890.95 739.1,890.95 744.94,888.25 745.67,890.95 746.4,890.95 752.24,888.25 752.97,890.95 753.7,890.95 759.54,888.25 760.27,890.95" stroke="rgb(248,248,248)" stroke-width="1.35"/><polyline points="246.9,897.9 253.08,894.7 253.85,897.9 254.62,897.9 260.81,894.7 261.58,897.9 262.35,897.9 268.53,894.7 269.3,897.9 270.08,897.9 276.26,894.7 277.03,897.9 277.8,897.9 283.98,894.7 284.75,897.9 285.53,897.9 291.71,894.7 292.48,897.9 293.25,897.9 299.43,894.7 300.2,897.9 300.98,897.9 307.16,894.7 307.93,897.9 308.7,897.9 314.88,894.7 315.65,897.9 316.43,897.9 322.61,894.7 323.38,897.9 324.15,897.9 330.33,894.7 331.1,897.9 331.88,897.9 338.06,894.7 338.83,897.9 339.6,897.9 345.78,894.7 346.55,897.9 347.33,897.9 353.51,894.7 354.28,897.9 355.05,897.9 361.23,894.7 362,897.9 362.78,897.9 368.96,894.7 369.73,897.9 370.5,897.9 376.68,894.7 377.45,897.9 378.23,897.9 384.41,894.7 385.18,897.9 385.95,897.9 392.13,894.7 392.9,897.9 393.68,897.9 399.86,894.7 400.63,897.9 401.4,897.9 407.58,894.7 408.35,897.9 409.13,897.9 415.31,894.7 416.08,897.9 416.85,897.9 423.03,894.7 423.8,897.9 424.58,897.9 430.76,894.7 431.53,897.9 432.3,897.9 438.48,894.7 439.25,897.9 440.03,897.9 446.21,894.7 446.98,897.9 447.75,897.9 453.93,894.7 454.7,897.9 455.48,897.9 461.66,894.7 462.43,897.9 463.2,897.9 469.38,894.7 470.15,897.9 470.93,897.9 477.11,894.7 477.88,897.9 478.65,897.9 484.83,894.7 485.6,897.9 486.38,897.9 492.56,894.7 493.33,897.9 494.1,897.9 500.28,894.7 501.05,897.9 501.83,897.9 508.01,894.7 508.78,897.9 509.55,897.9 515.73,894.7 516.5,897.9 517.28,897.9 523.46,894.7 524.23,897.9 525,897.9 531.18,894.7 531.95,897.9 532.73,897.9 538.91,894.7 539.68,897.9 540.45,897.9 546.63,894.7 547.4,897.9 548.18,897.9 554.36,894.7 555.13,897.9 555.9,897.9 562.08,894.7 562.85,897.9 563.63,897.9 569.81,894.7 570.58,897.9 571.35,897.9 577.53,894.7 578.3,897.9 579.08,897.9 585.26,894.7 586.03,897.9 586.8,897.9 592.98,894.7 593.75,897.9 594.53,897.9 600.71,894.7 601.48,897.9 602.25,897.9 608.43,894.7 609.2,897.9 609.98,897.9 616.16,894.7 616.93,897.9 617.7,897.9 623.88,894.7 624.65,897.9 625.43,897.9 631.61,894.7 632.38,897.9 633.15,897.9 639.33,894.7 640.1,897.9 640.88,897.9 647.06,894.7 647.83,897.9 648.6,897.9 654.78,894.7 655.55,897.9 656.33,897.9 662.51,894.7 663.28,897.9 664.05,897.9 670.23,894.7 671,897.9 671.78,897.9 677.96,894.7 678.73,897.9 679.5,897.9 685.68,894.7 686.45,897.9 687.23,897.9 693.41,894.7 694.18,897.9 694.95,897.9 701.13,894.7 701.9,897.9 702.68,897.9 708.86,894.7 709.63,897.9 710.4,897.9 716.58,894.7 717.35,897.9 718.13,897.9 724.31,894.7 725.08,897.9 725.85,897.9 732.03,894.7 732.8,897.9 733.58,897.9 739.76,894.7 740.53,897.9 741.3,897.9 747.48,894.7 748.25,897.9 749.03,897.9 755.21,894.7 755.98,897.9 756.75,897.9 762.93,894.7 763.7,897.9" stroke="rgb(238,238,238)" stroke-width="1.35"/><polyline points="243.8,905.85 250.32,902.15 251.14,905.85 251.95,905.85 258.47,902.15 259.29,905.85 260.1,905.85 266.62,902.15 267.44,905.85 268.25,905.85 274.77,902.15 275.58,905.85 276.4,905.85 282.92,902.15 283.73,905.85 284.55,905.85 291.07,902.15 291.88,905.85 292.7,905.85 299.22,902.15 300.03,905.85 300.85,905.85 307.37,902.15 308.18,905.85 309,905.85 315.52,902.15 316.33,905.85 317.15,905.85 323.67,902.15 324.48,905.85 325.3,905.85 331.82,902.15 332.63,905.85 333.45,905.85 339.97,902.15 340.78,905.85 341.6,905.85 348.12,902.15 348.93,905.85 349.75,905.85 356.27,902.15 357.08,905.85 357.9,905.85 364.42,902.15 365.23,905.85 366.05,905.85 372.57,902.15 373.38,905.85 374.2,905.85 380.72,902.15 381.53,905.85 382.35,905.85 388.87,902.15 389.68,905.85 390.5,905.85 397.02,902.15 397.83,905.85 398.65,905.85 405.17,902.15 405.98,905.85 406.8,905.85 413.32,902.15 414.13,905.85 414.95,905.85 421.47,902.15 422.28,905.85 423.1,905.85 429.62,902.15 430.43,905.85 431.25,905.85 437.77,902.15 438.58,905.85 439.4,905.85 445.92,902.15 446.73,905.85 447.55,905.85 454.07,902.15 454.88,905.85 455.7,905.85 462.22,902.15 463.03,905.85 463.85,905.85 470.37,902.15 471.18,905.85 472,905.85 478.52,902.15 479.33,905.85 480.15,905.85 486.67,902.15 487.48,905.85 488.3,905.85 494.82,902.15 495.63,905.85 496.45,905.85 502.97,902.15 503.78,905.85 504.6,905.85 511.12,902.15 511.93,905.85 512.75,905.85 519.27,902.15 520.08,905.85 520.9,905.85 527.42,902.15 528.23,905.85 529.05,905.85 535.57,902.15 536.38,905.85 537.2,905.85 543.72,902.15 544.53,905.85 545.35,905.85 551.87,902.15 552.68,905.85 553.5,905.85 560.02,902.15 560.83,905.85 561.65,905.85 568.17,902.15 568.98,905.85 569.8,905.85 576.32,902.15 577.13,905.85 577.95,905.85 584.47,902.15 585.28,905.85 586.1,905.85 592.62,902.15 593.43,905.85 594.25,905.85 600.77,902.15 601.58,905.85 602.4,905.85 608.92,902.15 609.73,905.85 610.55,905.85 617.07,902.15 617.88,905.85 618.7,905.85 625.22,902.15 626.03,905.85 626.85,905.85 633.37,902.15 634.18,905.85 635,905.85 641.52,902.15 642.33,905.85 643.15,905.85 649.67,902.15 650.48,905.85 651.3,905.85 657.82,902.15 658.63,905.85 659.45,905.85 665.97,902.15 666.78,905.85 667.6,905.85 674.12,902.15 674.93,905.85 675.75,905.85 682.27,902.15 683.08,905.85 683.9,905.85 690.42,902.15 691.23,905.85 692.05,905.85 698.57,902.15 699.38,905.85 700.2,905.85 706.72,902.15 707.53,905.85 708.35,905.85 714.87,902.15 715.68,905.85 716.5,905.85 723.02,902.15 723.83,905.85 724.65,905.85 731.17,902.15 731.98,905.85 732.8,905.85 739.32,902.15 740.13,905.85 740.95,905.85 747.47,902.15 748.28,905.85 749.1,905.85 755.62,902.15 756.43,905.85 757.25,905.85 763.77,902.15 764.58,905.85" stroke="rgb(229,229,229)" stroke-width="1.35"/><polyline points="249.28,914.1 256.13,909.9 256.99,914.1 257.85,914.1 264.71,909.9 265.57,914.1 266.43,914.1 273.29,909.9 274.14,914.1 275,914.1 281.86,909.9 282.72,914.1 283.57,914.1 290.44,909.9 291.29,914.1 292.15,914.1 299.01,909.9 299.87,914.1 300.72,914.1 307.58,909.9 308.44,914.1 309.3,914.1 316.16,909.9 317.02,914.1 317.87,914.1 324.73,909.9 325.59,914.1 326.45,914.1 333.31,909.9 334.17,914.1 335.02,914.1 341.88,909.9 342.74,914.1 343.6,914.1 350.46,909.9 351.32,914.1 352.17,914.1 359.03,909.9 359.89,914.1 360.75,914.1 367.61,909.9 368.47,914.1 369.32,914.1 376.18,909.9 377.04,914.1 377.9,914.1 384.76,909.9 385.62,914.1 386.47,914.1 393.33,909.9 394.19,914.1 395.05,914.1 401.91,909.9 402.77,914.1 403.62,914.1 410.48,909.9 411.34,914.1 412.2,914.1 419.06,909.9 419.92,914.1 420.77,914.1 427.63,909.9 428.49,914.1 429.35,914.1 436.21,909.9 437.07,914.1 437.92,914.1 444.78,909.9 445.64,914.1 446.5,914.1 453.36,909.9 454.22,914.1 455.07,914.1 461.93,909.9 462.79,914.1 463.65,914.1 470.51,909.9 471.37,914.1 472.22,914.1 479.08,909.9 479.94,914.1 480.8,914.1 487.66,909.9 488.52,914.1 489.37,914.1 496.23,909.9 497.09,914.1 497.95,914.1 504.81,909.9 505.67,914.1 506.52,914.1 513.38,909.9 514.24,914.1 515.1,914.1 521.96,909.9 522.82,914.1 523.67,914.1 530.53,909.9 531.39,914.1 532.25,914.1 539.11,909.9 539.97,914.1 540.82,914.1 547.68,909.9 548.54,914.1 549.4,914.1 556.26,909.9 557.12,914.1 557.97,914.1 564.83,909.9 565.69,914.1 566.55,914.1 573.41,909.9 574.27,914.1 575.12,914.1 581.99,909.9 582.84,914.1 583.7,914.1 590.56,909.9 591.42,914.1 592.28,914.1 599.14,909.9 599.99,914.1 600.85,914.1 607.71,909.9 608.57,914.1 609.43,914.1 616.29,909.9 617.14,914.1 618,914.1 624.86,909.9 625.72,914.1 626.58,914.1 633.44,909.9 634.29,914.1 635.15,914.1 642.01,909.9 642.87,914.1 643.73,914.1 650.59,909.9 651.44,914.1 652.3,914.1 659.16,909.9 660.02,914.1 660.88,914.1 667.74,909.9 668.59,914.1 669.45,914.1 676.31,909.9 677.17,914.1 678.03,914.1 684.89,909.9 685.74,914.1 686.6,914.1 693.46,909.9 694.32,914.1 695.18,914.1 702.04,909.9 702.89,914.1 703.75,914.1 710.61,909.9 711.47,914.1 712.33,914.1 719.19,909.9 720.04,914.1 720.9,914.1 727.76,909.9 728.62,914.1 729.48,914.1 736.34,909.9 737.19,914.1 738.05,914.1 744.91,909.9 745.77,914.1 746.63,914.1 753.49,909.9 754.34,914.1 755.2,914.1 762.06,909.9 762.92,914.1" stroke="rgb(219,219,219)" stroke-width="1.35"/><polyline points="246.6,923.05 253.8,918.35 254.7,923.05 255.6,923.05 262.8,918.35 263.7,923.05 264.6,923.05 271.8,918.35 272.7,923.05 273.6,923.05 280.8,918.35 281.7,923.05 282.6,923.05 289.8,918.35 290.7,923.05 291.6,923.05 298.8,918.35 299.7,923.05 300.6,923.05 307.8,918.35 308.7,923.05 309.6,923.05 316.8,918.35 317.7,923.05 318.6,923.05 325.8,918.35 326.7,923.05 327.6,923.05 334.8,918.35 335.7,923.05 336.6,923.05 343.8,918.35 344.7,923.05 345.6,923.05 352.8,918.35 353.7,923.05 354.6,923.05 361.8,918.35 362.7,923.05 363.6,923.05 370.8,918.35 371.7,923.05 372.6,923.05 379.8,918.35 380.7,923.05 381.6,923.05 388.8,918.35 389.7,923.05 390.6,923.05 397.8,918.35 398.7,923.05 399.6,923.05 406.8,918.35 407.7,923.05 408.6,923.05 415.8,918.35 416.7,923.05 417.6,923.05 424.8,918.35 425.7,923.05 426.6,923.05 433.8,918.35 434.7,923.05 435.6,923.05 442.8,918.35 443.7,923.05 444.6,923.05 451.8,918.35 452.7,923.05 453.6,923.05 460.8,918.35 461.7,923.05 462.6,923.05 469.8,918.35 470.7,923.05 471.6,923.05 478.8,918.35 479.7,923.05 480.6,923.05 487.8,918.35 488.7,923.05 489.6,923.05 496.8,918.35 497.7,923.05 498.6,923.05 505.8,918.35 506.7,923.05 507.6,923.05 514.8,918.35 515.7,923.05 516.6,923.05 523.8,918.35 524.7,923.05 525.6,923.05 532.8,918.35 533.7,923.05 534.6,923.05 541.8,918.35 542.7,923.05 543.6,923.05 550.8,918.35 551.7,923.05 552.6,923.05 559.8,918.35 560.7,923.05 561.6,923.05 568.8,918.35 569.7,923.05 570.6,923.05 577.8,918.35 578.7,923.05 579.6,923.05 586.8,918.35 587.7,923.05 588.6,923.05 595.8,918.35 596.7,923.05 597.6,923.05 604.8,918.35 605.7,923.05 606.6,923.05 613.8,918.35 614.7,923.05 615.6,923.05 622.8,918.35 623.7,923.05 624.6,923.05 631.8,918.35 632.7,923.05 633.6,923.05 640.8,918.35 641.7,923.05 642.6,923.05 649.8,918.35 650.7,923.05 651.6,923.05 658.8,918.35 659.7,923.05 660.6,923.05 667.8,918.35 668.7,923.05 669.6,923.05 676.8,918.35 677.7,923.05 678.6,923.05 685.8,918.35 686.7,923.05 687.6,923.05 694.8,918.35 695.7,923.05 696.6,923.05 703.8,918.35 704.7,923.05 705.6,923.05 712.8,918.35 713.7,923.05 714.6,923.05 721.8,918.35 722.7,923.05 723.6,923.05 730.8,918.35 731.7,923.05 732.6,923.05 739.8,918.35 740.7,923.05 741.6,923.05 748.8,918.35 749.7,923.05 750.6,923.05 757.8,918.35 758.7,923.05 759.6,923.05 766.8,918.35 767.7,923.05" stroke="rgb(210,210,210)" stroke-width="1.35"/><polyline points="243.93,932.6 251.47,927.4 252.41,932.6 253.35,932.6 260.89,927.4 261.83,932.6 262.78,932.6 270.32,927.4 271.26,932.6 272.2,932.6 279.74,927.4 280.68,932.6 281.63,932.6 289.17,927.4 290.11,932.6 291.05,932.6 298.59,927.4 299.53,932.6 300.48,932.6 308.02,927.4 308.96,932.6 309.9,932.6 317.44,927.4 318.38,932.6 319.33,932.6 326.87,927.4 327.81,932.6 328.75,932.6 336.29,927.4 337.23,932.6 338.18,932.6 345.72,927.4 346.66,932.6 347.6,932.6 355.14,927.4 356.08,932.6 357.03,932.6 364.57,927.4 365.51,932.6 366.45,932.6 373.99,927.4 374.93,932.6 375.88,932.6 383.42,927.4 384.36,932.6 385.3,932.6 392.84,927.4 393.78,932.6 394.73,932.6 402.27,927.4 403.21,932.6 404.15,932.6 411.69,927.4 412.63,932.6 413.58,932.6 421.12,927.4 422.06,932.6 423,932.6 430.54,927.4 431.48,932.6 432.43,932.6 439.97,927.4 440.91,932.6 441.85,932.6 449.39,927.4 450.33,932.6 451.28,932.6 458.82,927.4 459.76,932.6 460.7,932.6 468.24,927.4 469.18,932.6 470.13,932.6 477.67,927.4 478.61,932.6 479.55,932.6 487.09,927.4 488.03,932.6 488.98,932.6 496.52,927.4 497.46,932.6 498.4,932.6 505.94,927.4 506.88,932.6 507.83,932.6 515.37,927.4 516.31,932.6 517.25,932.6 524.79,927.4 525.73,932.6 526.68,932.6 534.22,927.4 535.16,932.6 536.1,932.6 543.64,927.4 544.58,932.6 545.53,932.6 553.07,927.4 554.01,932.6 554.95,932.6 562.49,927.4 563.43,932.6 564.38,932.6 571.92,927.4 572.86,932.6 573.8,932.6 581.34,927.4 582.28,932.6 583.23,932.6 590.76,927.4 591.71,932.6 592.65,932.6 600.19,927.4 601.13,932.6 602.07,932.6 609.61,927.4 610.56,932.6 611.5,932.6 619.04,927.4 619.98,932.6 620.92,932.6 628.46,927.4 629.41,932.6 630.35,932.6 637.89,927.4 638.83,932.6 639.77,932.6 647.31,927.4 648.26,932.6 649.2,932.6 656.74,927.4 657.68,932.6 658.62,932.6 666.16,927.4 667.11,932.6 668.05,932.6 675.59,927.4 676.53,932.6 677.47,932.6 685.01,927.4 685.96,932.6 686.9,932.6 694.44,927.4 695.38,932.6 696.32,932.6 703.86,927.4 704.81,932.6 705.75,932.6 713.29,927.4 714.23,932.6 715.17,932.6 722.71,927.4 723.66,932.6 724.6,932.6 732.14,927.4 733.08,932.6 734.02,932.6 741.56,927.4 742.51,932.6 743.45,932.6 750.99,927.4 751.93,932.6 752.87,932.6 760.41,927.4 761.36,932.6" stroke="rgb(201,201,201)" stroke-width="1.35"/><polyline points="241.25,942.85 249.13,937.15 250.12,942.85 251.1,942.85 258.98,937.15 259.96,942.85 260.95,942.85 268.83,937.15 269.81,942.85 270.8,942.85 278.68,937.15 279.67,942.85 280.65,942.85 288.53,937.15 289.52,942.85 290.5,942.85 298.38,937.15 299.37,942.85 300.35,942.85 308.23,937.15 309.22,942.85 310.2,942.85 318.08,937.15 319.07,942.85 320.05,942.85 327.93,937.15 328.92,942.85 329.9,942.85 337.78,937.15 338.77,942.85 339.75,942.85 347.63,937.15 348.62,942.85 349.6,942.85 357.48,937.15 358.47,942.85 359.45,942.85 367.33,937.15 368.32,942.85 369.3,942.85 377.18,937.15 378.17,942.85 379.15,942.85 387.03,937.15 388.02,942.85 389,942.85 396.88,937.15 397.87,942.85 398.85,942.85 406.73,937.15 407.72,942.85 408.7,942.85 416.58,937.15 417.57,942.85 418.55,942.85 426.43,937.15 427.42,942.85 428.4,942.85 436.28,937.15 437.27,942.85 438.25,942.85 446.13,937.15 447.12,942.85 448.1,942.85 455.98,937.15 456.97,942.85 457.95,942.85 465.83,937.15 466.82,942.85 467.8,942.85 475.68,937.15 476.67,942.85 477.65,942.85 485.53,937.15 486.52,942.85 487.5,942.85 495.38,937.15 496.37,942.85 497.35,942.85 505.23,937.15 506.22,942.85 507.2,942.85 515.08,937.15 516.07,942.85 517.05,942.85 524.93,937.15 525.92,942.85 526.9,942.85 534.78,937.15 535.77,942.85 536.75,942.85 544.63,937.15 545.62,942.85 546.6,942.85 554.48,937.15 555.47,942.85 556.45,942.85 564.33,937.15 565.32,942.85 566.3,942.85 574.18,937.15 575.17,942.85 576.15,942.85 584.03,937.15 585.02,942.85 586,942.85 593.88,937.15 594.87,942.85 595.85,942.85 603.73,937.15 604.72,942.85 605.7,942.85 613.58,937.15 614.57,942.85 615.55,942.85 623.43,937.15 624.42,942.85 625.4,942.85 633.28,937.15 634.27,942.85 635.25,942.85 643.13,937.15 644.12,942.85 645.1,942.85 652.98,937.15 653.97,942.85 654.95,942.85 662.83,937.15 663.82,942.85 664.8,942.85 672.68,937.15 673.67,942.85 674.65,942.85 682.53,937.15 683.52,942.85 684.5,942.85 692.38,937.15 693.37,942.85 694.35,942.85 702.23,937.15 703.22,942.85 704.2,942.85 712.08,937.15 713.07,942.85 714.05,942.85 721.93,937.15 722.92,942.85 723.9,942.85 731.78,937.15 732.77,942.85 733.75,942.85 741.63,937.15 742.62,942.85 743.6,942.85 751.48,937.15 752.47,942.85 753.45,942.85 761.33,937.15 762.32,942.85" stroke="rgb(191,191,191)" stroke-width="1.35"/><polyline points="248.85,954.4 257.07,948.2 258.1,954.4 259.12,954.4 267.35,948.2 268.37,954.4 269.4,954.4 277.62,948.2 278.65,954.4 279.67,954.4 287.89,948.2 288.92,954.4 289.95,954.4 298.17,948.2 299.2,954.4 300.22,954.4 308.44,948.2 309.47,954.4 310.5,954.4 318.72,948.2 319.75,954.4 320.77,954.4 328.99,948.2 330.02,954.4 331.05,954.4 339.27,948.2 340.3,954.4 341.32,954.4 349.54,948.2 350.57,954.4 351.6,954.4 359.82,948.2 360.85,954.4 361.87,954.4 370.09,948.2 371.12,954.4 372.15,954.4 380.37,948.2 381.4,954.4 382.42,954.4 390.64,948.2 391.67,954.4 392.7,954.4 400.92,948.2 401.95,954.4 402.97,954.4 411.19,948.2 412.22,954.4 413.25,954.4 421.47,948.2 422.5,954.4 423.52,954.4 431.74,948.2 432.77,954.4 433.8,954.4 442.02,948.2 443.05,954.4 444.07,954.4 452.29,948.2 453.32,954.4 454.35,954.4 462.57,948.2 463.6,954.4 464.62,954.4 472.84,948.2 473.87,954.4 474.9,954.4 483.12,948.2 484.15,954.4 485.17,954.4 493.39,948.2 494.42,954.4 495.45,954.4 503.67,948.2 504.7,954.4 505.72,954.4 513.94,948.2 514.97,954.4 516,954.4 524.22,948.2 525.25,954.4 526.27,954.4 534.49,948.2 535.52,954.4 536.55,954.4 544.77,948.2 545.8,954.4 546.82,954.4 555.04,948.2 556.07,954.4 557.1,954.4 565.32,948.2 566.35,954.4 567.37,954.4 575.59,948.2 576.62,954.4 577.65,954.4 585.87,948.2 586.9,954.4 587.92,954.4 596.14,948.2 597.17,954.4 598.2,954.4 606.42,948.2 607.45,954.4 608.47,954.4 616.69,948.2 617.72,954.4 618.75,954.4 626.97,948.2 628,954.4 629.02,954.4 637.24,948.2 638.27,954.4 639.3,954.4 647.52,948.2 648.55,954.4 649.57,954.4 657.79,948.2 658.82,954.4 659.85,954.4 668.07,948.2 669.1,954.4 670.12,954.4 678.34,948.2 679.37,954.4 680.4,954.4 688.62,948.2 689.65,954.4 690.67,954.4 698.89,948.2 699.92,954.4 700.95,954.4 709.17,948.2 710.2,954.4 711.22,954.4 719.44,948.2 720.47,954.4 721.5,954.4 729.72,948.2 730.75,954.4 731.77,954.4 739.99,948.2 741.02,954.4 742.05,954.4 750.27,948.2 751.3,954.4 752.32,954.4 760.54,948.2 761.57,954.4" stroke="rgb(182,182,182)" stroke-width="1.35"/><polyline points="246.6,966.65 255.16,959.95 256.23,966.65 257.3,966.65 265.86,959.95 266.93,966.65 268,966.65 276.56,959.95 277.63,966.65 278.7,966.65 287.26,959.95 288.33,966.65 289.4,966.65 297.96,959.95 299.03,966.65 300.1,966.65 308.66,959.95 309.73,966.65 310.8,966.65 319.36,959.95 320.43,966.65 321.5,966.65 330.06,959.95 331.13,966.65 332.2,966.65 340.76,959.95 341.83,966.65 342.9,966.65 351.46,959.95 352.53,966.65 353.6,966.65 362.16,959.95 363.23,966.65 364.3,966.65 372.86,959.95 373.93,966.65 375,966.65 383.56,959.95 384.63,966.65 385.7,966.65 394.26,959.95 395.33,966.65 396.4,966.65 404.96,959.95 406.03,966.65 407.1,966.65 415.66,959.95 416.73,966.65 417.8,966.65 426.36,959.95 427.43,966.65 428.5,966.65 437.06,959.95 438.13,966.65 439.2,966.65 447.76,959.95 448.83,966.65 449.9,966.65 458.46,959.95 459.53,966.65 460.6,966.65 469.16,959.95 470.23,966.65 471.3,966.65 479.86,959.95 480.93,966.65 482,966.65 490.56,959.95 491.63,966.65 492.7,966.65 501.26,959.95 502.33,966.65 503.4,966.65 511.96,959.95 513.03,966.65 514.1,966.65 522.66,959.95 523.73,966.65 524.8,966.65 533.36,959.95 534.43,966.65 535.5,966.65 544.06,959.95 545.13,966.65 546.2,966.65 554.76,959.95 555.83,966.65 556.9,966.65 565.46,959.95 566.53,966.65 567.6,966.65 576.16,959.95 577.23,966.65 578.3,966.65 586.86,959.95 587.93,966.65 589,966.65 597.56,959.95 598.63,966.65 599.7,966.65 608.26,959.95 609.33,966.65 610.4,966.65 618.96,959.95 620.03,966.65 621.1,966.65 629.66,959.95 630.73,966.65 631.8,966.65 640.36,959.95 641.43,966.65 642.5,966.65 651.06,959.95 652.13,966.65 653.2,966.65 661.76,959.95 662.83,966.65 663.9,966.65 672.46,959.95 673.53,966.65 674.6,966.65 683.16,959.95 684.23,966.65 685.3,966.65 693.86,959.95 694.93,966.65 696,966.65 704.56,959.95 705.63,966.65 706.7,966.65 715.26,959.95 716.33,966.65 717.4,966.65 725.96,959.95 727.03,966.65 728.1,966.65 736.66,959.95 737.73,966.65 738.8,966.65 747.36,959.95 748.43,966.65 749.5,966.65 758.06,959.95 759.13,966.65" stroke="rgb(173,173,173)" stroke-width="1.35"/><line x1="270" y1="972.8" x2="750" y2="972.8" stroke="#777" stroke-width="0.8"/><polyline points="262,977 268.45,983 274.9,977 281.35,983 287.8,977 294.25,983 300.7,977 307.15,983 313.6,977 320.05,983 326.5,977 332.95,983 339.4,977 345.85,983 352.3,977 358.75,983 365.2,977 371.65,983 378.1,977 384.55,983 391,977 397.45,983 403.9,977 410.35,983 416.8,977 423.25,983 429.7,977 436.15,983 442.6,977 449.05,983 455.5,977 461.95,983 468.4,977 474.85,983 481.3,977 487.75,983 494.2,977 500.65,983 507.1,977 513.55,983 520,977 526.45,983 532.9,977 539.35,983 545.8,977 552.25,983 558.7,977 565.15,983 571.6,977 578.05,983 584.5,977 590.95,983 597.4,977 603.85,983 610.3,977 616.75,983 623.2,977 629.65,983 636.1,977 642.55,983 649,977 655.45,983 661.9,977 668.35,983 674.8,977 681.25,983 687.7,977 694.15,983 700.6,977 707.05,983 713.5,977 719.95,983 726.4,977 732.85,983 739.3,977 745.75,983 752.2,977 758.65,983" stroke="#a8a8a8" stroke-width="1.1"/></g><g transform="translate(0,630)"><path fill="url(#gLa)" d="M478,283 C505,303 541,343 548,412.3 L536,414 L577.2,454 L605.5,404.3 L589,406.5 C588,360 570,312 525,286 Z"/><path fill="url(#gMa)" d="M593,318 L593,433 L584,433 L611.2,462.4 L639.2,433 L629,433 L629,318 Z"/><path fill="url(#gRa)" d="M676,284 C650,314 634,360 633.8,406.4 L619.2,404.3 L647.3,454.4 L688,414 L675,412.2 C680,362 708,318 760,284 Z"/></g><g transform="translate(0,164)"><g mask="url(#bm)"><path d="M535.25,706 Q533.62,760 526.27,790.87 L516.07,782.85 L526.7,813 L547.53,788.75 L535.12,792.53 Q544.38,760 547.75,706 A6.25,6.25 0 0 0 535.25,706 Z" fill="none" stroke="#3fd0e4" stroke-width="5" stroke-linejoin="round" filter="url(#bl2)"/><path d="M535.25,706 Q533.62,760 526.27,790.87 L516.07,782.85 L526.7,813 L547.53,788.75 L535.12,792.53 Q544.38,760 547.75,706 A6.25,6.25 0 0 0 535.25,706 Z" fill="#fff" stroke="#40cde2" stroke-width="2.2" stroke-linejoin="round"/><path d="M579.8,704 Q580.5,770 580.22,822.58 L568.3,815.79 L585.2,849.5 L600.9,815.21 L589.22,822.42 Q591.5,770 592.8,704 A6.5,6.5 0 0 0 579.8,704 Z" fill="none" stroke="#3fd0e4" stroke-width="5" stroke-linejoin="round" filter="url(#bl2)"/><path d="M579.8,704 Q580.5,770 580.22,822.58 L568.3,815.79 L585.2,849.5 L600.9,815.21 L589.22,822.42 Q591.5,770 592.8,704 A6.5,6.5 0 0 0 579.8,704 Z" fill="#fff" stroke="#40cde2" stroke-width="2.2" stroke-linejoin="round"/><path d="M622.25,706 Q625.62,760 633.61,793.24 L621.19,789.52 L642,813 L652.61,783.48 L642.45,791.54 Q636.38,760 634.75,706 A6.25,6.25 0 0 0 622.25,706 Z" fill="none" stroke="#3fd0e4" stroke-width="5" stroke-linejoin="round" filter="url(#bl2)"/><path d="M622.25,706 Q625.62,760 633.61,793.24 L621.19,789.52 L642,813 L652.61,783.48 L642.45,791.54 Q636.38,760 634.75,706 A6.25,6.25 0 0 0 622.25,706 Z" fill="#fff" stroke="#40cde2" stroke-width="2.2" stroke-linejoin="round"/></g><ellipse cx="541.5" cy="714" rx="6.5" ry="11" fill="#55d5e8" filter="url(#bl3)" opacity="0.95"/><ellipse cx="586.3" cy="712" rx="6.5" ry="11" fill="#55d5e8" filter="url(#bl3)" opacity="0.95"/><ellipse cx="628.5" cy="714" rx="6.5" ry="11" fill="#55d5e8" filter="url(#bl3)" opacity="0.95"/></g><circle cx="506.5" cy="1095.4" r="46.2" fill="url(#airG)"/><circle cx="645" cy="1106.5" r="23" fill="url(#airG)"/><circle cx="691.7" cy="1097.7" r="10.7" fill="url(#airG)"/><circle cx="566" cy="1158.5" r="11" fill="url(#airG)"/><circle cx="632.8" cy="1158.5" r="8.2" fill="url(#airG)"/><circle cx="491" cy="1188" r="22" fill="url(#airG)"/><circle cx="603.5" cy="1217.9" r="35.5" fill="url(#airG)"/><circle cx="674.2" cy="1204.2" r="16.7" fill="url(#airG)"/><path transform="translate(499,807) rotate(65)" d="M-5.5,0 C-2.2,-3.8 2.75,-3.2 5.5,0 C2.2,1.4 -2.75,1.6 -5.5,0 Z" fill="url(#leafG)" opacity="1.0"/><path transform="translate(426,844) rotate(65)" d="M-5,0 C-2,-3.8 2.5,-3.2 5,0 C2,1.4 -2.5,1.6 -5,0 Z" fill="url(#leafG)" opacity="1.0"/><path transform="translate(423.4,872) rotate(60)" d="M-15,0 C-6,-8.55 7.5,-7.2 15,0 C6,3.15 -7.5,3.6 -15,0 Z" fill="url(#leafG)" opacity="1.0"/><path transform="translate(560.5,859.6) rotate(195)" d="M-7.5,0 C-3,-4.75 3.75,-4 7.5,0 C3,1.75 -3.75,2 -7.5,0 Z" fill="url(#leafG)" opacity="1.0"/><path transform="translate(705.4,828.2) rotate(59)" d="M-15,0 C-6,-8.55 7.5,-7.2 15,0 C6,3.15 -7.5,3.6 -15,0 Z" fill="url(#leafG)" opacity="1.0"/><path transform="translate(748,786) rotate(-50)" d="M-16,0 C-6.4,-11.4 8,-9.6 16,0 C6.4,4.2 -8,4.8 -16,0 Z" fill="url(#leafG)" opacity="1.0"/><path transform="translate(433,1045.4) rotate(45)" d="M-8.5,0 C-3.4,-5.7 4.25,-4.8 8.5,0 C3.4,2.1 -4.25,2.4 -8.5,0 Z" fill="url(#leafG)" opacity="1.0"/><path transform="translate(599,1106) rotate(45)" d="M-5,0 C-2,-3.8 2.5,-3.2 5,0 C2,1.4 -2.5,1.6 -5,0 Z" fill="url(#leafG)" opacity="1.0"/><path transform="translate(566.3,1135) rotate(-60)" d="M-15,0 C-6,-8.55 7.5,-7.2 15,0 C6,3.15 -7.5,3.6 -15,0 Z" fill="url(#leafG)" opacity="1.0"/><path transform="translate(467.8,1199.4) rotate(155)" d="M-8.5,0 C-3.4,-5.7 4.25,-4.8 8.5,0 C3.4,2.1 -4.25,2.4 -8.5,0 Z" fill="url(#leafG)" opacity="1.0"/><path transform="translate(600,1184.7) rotate(160)" d="M-9,0 C-3.6,-5.7 4.5,-4.8 9,0 C3.6,2.1 -4.5,2.4 -9,0 Z" fill="url(#leafG)" opacity="0.6"/><path transform="translate(428.5,1228) rotate(75)" d="M-9.5,0 C-3.8,-5.7 4.75,-4.8 9.5,0 C3.8,2.1 -4.75,2.4 -9.5,0 Z" fill="url(#leafG)" opacity="1.0"/><path transform="translate(740,1059) rotate(165)" d="M-18,0 C-7.2,-11.4 9,-9.6 18,0 C7.2,4.2 -9,4.8 -18,0 Z" fill="url(#leafG)" opacity="1.0"/><path transform="translate(715,1185) rotate(-60)" d="M-15,0 C-6,-7.6 7.5,-6.4 15,0 C6,2.8 -7.5,3.2 -15,0 Z" fill="url(#leafG)" opacity="1.0"/><path transform="translate(702,1190.4) rotate(-70)" d="M-7.5,0 C-3,-4.75 3.75,-4 7.5,0 C3,1.75 -3.75,2 -7.5,0 Z" fill="url(#leafG)" opacity="0.6"/><path transform="translate(632,1054) rotate(160)" d="M-4,0 C-1.6,-3.32 2,-2.8 4,0 C1.6,1.22 -2,1.4 -4,0 Z" fill="url(#leafG)" opacity="1.0"/><path transform="translate(554,1028) rotate(50)" d="M-4,0 C-1.6,-3.32 2,-2.8 4,0 C1.6,1.22 -2,1.4 -4,0 Z" fill="url(#leafG)" opacity="1.0"/><circle cx="664.5" cy="1067" r="5.5" fill="none" stroke="#9fd8c4" stroke-width="0.8" opacity="0.8"/></svg><svg width="750" height="1308" viewBox="0 0 750 1308" style="position:absolute;left:0;top:0"><rect x="35.5" y="234.5" width="44.5" height="11" rx="5.5" fill="#000"/><rect x="91.5" y="234.5" width="20" height="11" rx="5.5" fill="#000"/><rect x="141" y="558" width="144.7" height="1" fill="#3c3c3c"/><rect x="32.8" y="556" width="108.2" height="3.7" fill="#3a3a3a"/><rect x="143" y="772" width="142" height="1" fill="#5a5a5a"/><rect x="35" y="770" width="108.2" height="3.8" fill="#3a3a3a"/><rect x="140" y="980" width="133" height="1" fill="#454545"/><rect x="32.2" y="978" width="107.8" height="3.6" fill="#3a3a3a"/></svg><svg width="50" height="45" viewBox="0 0 50 45" style="position:absolute;left:680px;top:92px" fill="none" stroke="#1a1a1a" stroke-width="1.2" stroke-linejoin="round" stroke-linecap="round"><path d="M15.3,8.7 C17,7 22.5,7.5 25.3,10.7 C27.5,13 28.2,17.5 27.3,21.3 C26.8,23.3 24.9,24 23.3,22.5 C21.8,21 21,19 19.5,17.5 C17.5,15.5 15.5,14.3 14.8,12 C14.4,10.8 14.6,9.5 15.3,8.7 Z"/><path d="M20.7,24.7 C19.5,23 16.2,23.5 13,25.5 C10,27.6 8.8,31 9.2,35.5 C9.5,38.5 11.5,40.2 13.8,39.5 C15.8,38.8 16.5,35.5 17.3,32.7 C18,30.3 19.5,28.3 20.8,26.5 C21.2,25.9 21.1,25.2 20.7,24.7 Z"/><path d="M24,26.7 C26.5,27.5 31,27 35,25.6 C38,24.8 40.8,25.5 41.3,28.5 C41.7,31 39.8,33.5 36,34.8 C32.5,35.8 28.5,35 25.8,33 C23.7,31.5 22.8,29 23.3,27.5 C23.5,27 23.7,26.7 24,26.7 Z"/><g stroke-width="1.9"><line x1="31" y1="9.4" x2="38" y2="9.4"/><line x1="31" y1="13.8" x2="40.5" y2="13.8"/><line x1="31" y1="18.2" x2="42.3" y2="18.2"/></g></svg><div class="a lb" style="left:33.35px;top:514.6px;transform:scaleX(1.1265)">Primary</div>
<div class="a lb" style="left:144.0px;top:514.6px;transform:scaleX(1.094)">filter</div>
<div class="a lb" style="left:213.23px;top:514.6px;transform:scaleX(1.0662)">cotton</div>
<div class="a lb" style="left:34.94px;top:731.4px;transform:scaleX(1.1277)">Primary</div>
<div class="a lb" style="left:145.9px;top:731.4px;transform:scaleX(1.09)">filter</div>
<div class="a lb" style="left:214.93px;top:731.4px;transform:scaleX(1.0691)">cotton</div>
<div class="a lb" style="left:34.45px;top:920.3px;transform:scaleX(1.0271)">High</div>
<div class="a lb" style="left:99.84px;top:920.3px;transform:scaleX(1.0562)">efficiency</div>
<div class="a lb" style="left:222.91px;top:920.3px;transform:scaleX(1.093)">black</div>
<div class="a lb" style="left:35.39px;top:942.8px;transform:scaleX(1.1134)">activated</div>
<div class="a lb" style="left:156.71px;top:942.8px;transform:scaleX(1.0851)">carbon</div>
<div class="a h" style="left:31.5px;top:106px;transform:scaleX(0.8373)">LOADED WITH ACTIVATED CARBON</div>
<div class="a h" style="left:32.4px;top:142px;transform:scaleX(0.842)">SMOKING FILTER</div>
<div class="a" style="left:32px;top:324px;font-size:15.5px;letter-spacing:0.71px;color:#111;-webkit-text-stroke:0.25px #111;">Work without pollution, discharge toxic gas and protect health</div>
<div class="a" style="left:541px;top:271px;font-size:26px;color:#353535;-webkit-text-stroke:0.45px #353535;transform:scaleX(0.99);transform-origin:0 0">Harmful</div>
<div class="a" style="left:565px;top:299px;font-size:26px;color:#353535;-webkit-text-stroke:0.45px #353535;transform:scaleX(0.84);transform-origin:0 0">Gas</div>
<div class="a" style="left:556px;top:395px;font-size:21px;color:#333;">Oil</div>
<div class="a" style="left:650px;top:368.5px;font-size:4.4px;font-weight:bold;color:#222;">waste gas</div>
<div class="a g" style="left:489px;top:1081.5px;font-size:30px;">air</div>
<div class="a g" style="left:625px;top:1097px;font-size:18.5px;">clean</div>
<div class="a g" style="left:686px;top:1093px;font-size:9.5px;">air</div>
<div class="a gd" style="left:556.5px;top:1154px;font-size:8.5px;">clean</div>
<div class="a gd" style="left:625.5px;top:1155px;font-size:6.5px;">clean</div>
<div class="a g" style="left:471px;top:1181px;font-size:16.5px;">clean</div>
<div class="a g" style="left:589px;top:1208px;font-size:24.5px;">air</div>
<div class="a g" style="left:668.5px;top:1198.5px;font-size:12.5px;">air</div>
</body></html>
